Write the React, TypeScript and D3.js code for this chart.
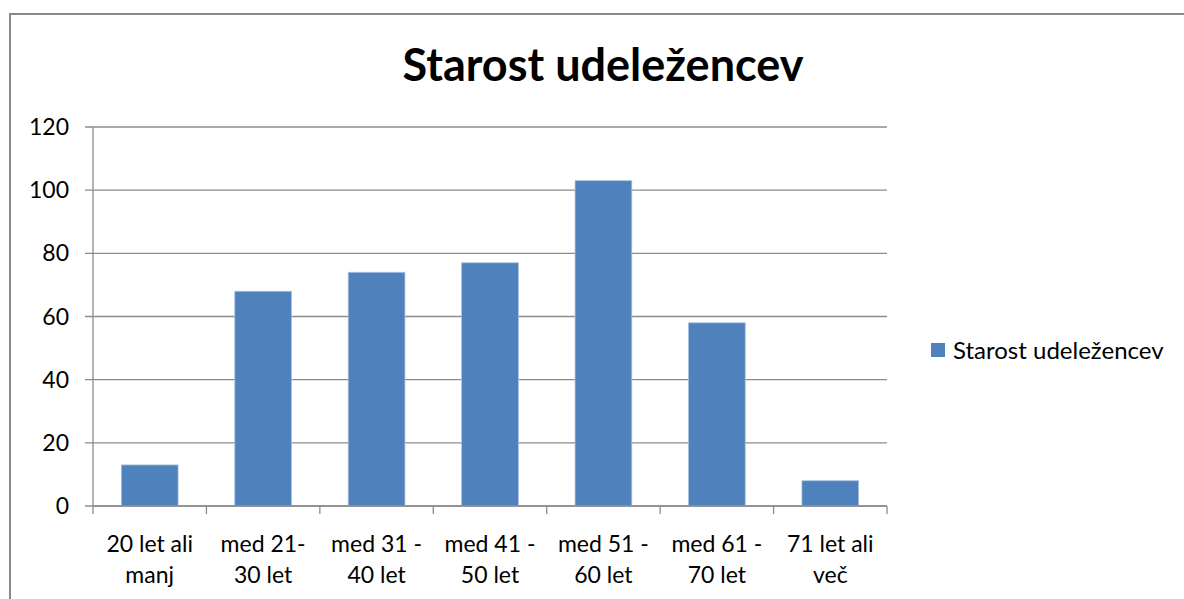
import React from 'react';
import * as d3 from 'd3';

const categories: string[][] = [
  ['20 let ali', 'manj'],
  ['med 21-', '30 let'],
  ['med 31 -', '40 let'],
  ['med 41 -', '50 let'],
  ['med 51 -', '60 let'],
  ['med 61 -', '70 let'],
  ['71 let ali', 'več'],
];
const values: number[] = [13, 68, 74, 77, 103, 58, 8];
const yTicks: number[] = [0, 20, 40, 60, 80, 100, 120];
const seriesName = 'Starost udeležencev';
const title = 'Starost udeležencev';

const App: React.FC = () => {
  const width = 1184;
  const height = 599;
  const margin = { top: 127, right: 297, bottom: 93, left: 93 };
  const font = 'Lato, "Open Sans", sans-serif';

  const xScale = d3
    .scaleBand<number>()
    .domain(d3.range(categories.length))
    .range([margin.left, width - margin.right])
    .paddingInner(0.5)
    .paddingOuter(0.25);

  const yScale = d3
    .scaleLinear()
    .domain([0, 120])
    .range([height - margin.bottom, margin.top]);

  const step = xScale.step();
  const x0 = margin.left;
  const x1 = width - margin.right;
  const y0 = yScale(0);

  return (
    <svg
      width={width}
      height={height}
      style={{ position: 'absolute', left: 0, top: 0, background: '#fff' }}
    >
      {/* chart frame */}
      <rect x={10} y={14} width={1200} height={620} fill="#fff" stroke="#888" strokeWidth={2} />

      <text x={603} y={81} textAnchor="middle" fontFamily={font} fontWeight="bold" fontSize={45} fill="#000">
        {title}
      </text>

      {/* gridlines */}
      {yTicks.map((t) => (
        <g key={t}>
          <line x1={x0 - 8} x2={x1} y1={yScale(t)} y2={yScale(t)} stroke="#8c8c8c" strokeWidth={1.3} />
          <text x={69} y={yScale(t) + 8} textAnchor="end" fontFamily={font} fontSize={23} fill="#000">
            {t}
          </text>
        </g>
      ))}

      {/* y axis */}
      <line x1={x0} x2={x0} y1={yScale(120)} y2={y0} stroke="#8c8c8c" strokeWidth={1.3} />

      {/* bars */}
      {values.map((v, i) => (
        <rect
          key={i}
          x={xScale(i)}
          y={yScale(v)}
          width={xScale.bandwidth()}
          height={y0 - yScale(v)}
          fill="#4f81bd"
          stroke="#a7c0de"
          strokeWidth={0.8}
        />
      ))}

      {/* x axis */}
      <line x1={x0} x2={x1} y1={y0} y2={y0} stroke="#8c8c8c" strokeWidth={1.3} />
      {d3.range(categories.length + 1).map((i) => (
        <line key={i} x1={x0 + i * step} x2={x0 + i * step} y1={y0} y2={y0 + 8} stroke="#8c8c8c" strokeWidth={1.3} />
      ))}
      {categories.map((lines, i) => (
        <text key={i} textAnchor="middle" fontFamily={font} fontSize={23} fill="#000">
          {lines.map((l, j) => (
            <tspan key={j} x={(xScale(i) as number) + xScale.bandwidth() / 2} y={y0 + 46 + j * 31}>
              {l}
            </tspan>
          ))}
        </text>
      ))}

      {/* legend */}
      <rect x={931} y={343} width={14} height={14} fill="#4f81bd" />
      <text x={953} y={359} fontFamily={font} fontSize={24} fill="#000">
        {seriesName}
      </text>
    </svg>
  );
};

export default App;
